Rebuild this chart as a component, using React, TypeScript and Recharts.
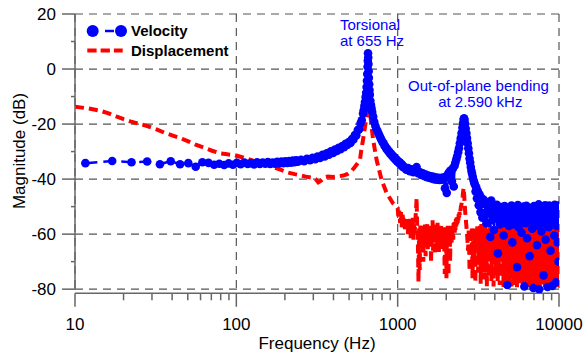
import {
  ComposedChart,
  Line,
  XAxis,
  YAxis,
  CartesianGrid,
  ReferenceLine,
  Label,
} from 'recharts';

const BLUE = '#0000ff';
const RED = '#ff0000';
const AXIS = '#666666';
const FONT = 'Arial, "Liberation Sans", Helvetica, sans-serif';

// axis ticks
const xMajorTicks = [10, 100, 1000, 10000];
const xMinorTicks = [
  20, 30, 40, 50, 60, 70, 80, 90,
  200, 300, 400, 500, 600, 700, 800, 900,
  2000, 3000, 4000, 5000, 6000, 7000, 8000, 9000,
];
const yMajorTicks = [-80, -60, -40, -20, 0, 20];
const yMinorTicks = [-70, -50, -30, -10, 10];

// Velocity (Hz, dB)
const velocityFreq = [
  11.6, 17.0, 22.4, 28.0, 33.6, 39.2, 44.8, 50.4, 56.0, 61.6,
  67.2, 72.8, 78.4, 84.0, 89.6, 95.2, 100.8, 106.4, 112.0, 117.6,
  123.2, 128.8, 134.4, 140.0, 145.6, 151.2, 156.8, 162.4, 168.0, 173.6,
  179.2, 184.8, 190.4, 196.0, 201.6, 207.2, 212.8, 218.4, 224.0, 229.6,
  235.2, 240.8, 252, 263, 274, 286, 297, 308, 319, 330,
  342, 353, 364, 375, 386, 398, 409, 420, 431, 442,
  454, 465, 476, 487, 498, 510, 521, 532, 543, 554,
  566, 577, 588, 599, 610, 616, 622, 627, 633, 638,
  642, 645, 648, 651, 653, 655, 657, 659, 661, 663,
  666, 669, 672, 677, 683, 689, 695, 705, 716, 727,
  739, 750, 761, 772, 784, 795, 806, 818, 829, 840,
  852, 863, 875, 886, 898, 909, 921, 932, 944, 955,
  967, 978, 990, 1001, 1013, 1024, 1036, 1048, 1060, 1072,
  1084, 1100, 1130, 1160, 1190, 1220, 1250, 1280, 1310, 1340,
  1370, 1400, 1430, 1460, 1490, 1520, 1550, 1580, 1610, 1640,
  1670, 1700, 1730, 1760, 1790, 1820, 1850, 1880, 1910, 1940,
  1965, 1990, 2015, 2040, 2065, 2090, 2115, 2140, 2170, 2195,
  2227, 2250, 2280, 2310, 2340, 2370, 2400, 2430, 2460, 2490,
  2520, 2545, 2565, 2580, 2595, 2615, 2640, 2665, 2690, 2715,
  2740, 2765, 2790, 2815, 2840, 2865, 2890, 2920, 2950, 2980,
  3010, 3040, 3070, 3100, 3140, 3180, 3220, 3260, 3300, 3350,
  3400, 3450, 3500, 3550, 3600, 3650, 3700, 3750, 3800, 3850,
  3900, 3950, 4000, 4060, 4120, 4180, 4240, 4300, 4360, 4420,
  4480, 4540, 4600, 4660, 4720, 4780, 4840, 4900, 4960, 5020,
  5080, 5140, 5200, 5260, 5320, 5380, 5440, 5500, 5560, 5620,
  5680, 5740, 5800, 5860, 5920, 5980, 6040, 6100, 6160, 6220,
  6280, 6340, 6400, 6460, 6520, 6580, 6640, 6700, 6760, 6820,
  6880, 6940, 7000, 7060, 7120, 7180, 7240, 7300, 7360, 7420,
  7480, 7540, 7600, 7660, 7720, 7780, 7840, 7900, 7960, 8020,
  8080, 8140, 8200, 8260, 8320, 8380, 8440, 8500, 8560, 8620,
  8680, 8740, 8800, 8860, 8920, 8980, 9040, 9100, 9160, 9220,
  9280, 9340, 9400, 9460, 9520, 9580, 9640, 9700, 9760, 9820,
  9880, 9940, 10000,
];
const velocityDb = [
  -34.2, -33.4, -33.9, -33.6, -34.6, -33.5, -34.6, -34.2, -35.5, -33.9,
  -34.1, -34.8, -34.4, -34.9, -34.3, -34.8, -34.1, -34.6, -34.0, -34.5,
  -34.2, -34.7, -33.9, -34.5, -34.0, -34.4, -33.8, -34.5, -34.0, -34.4,
  -33.7, -34.3, -33.6, -34.2, -33.5, -34.1, -33.4, -34.0, -33.3, -33.9,
  -33.2, -33.7, -33.0, -33.5, -32.6, -33.1, -32.3, -32.8, -31.8, -32.3,
  -31.2, -31.8, -30.6, -31.1, -29.9, -30.5, -29.3, -29.8, -28.6, -29.1,
  -28.0, -28.4, -27.2, -27.6, -26.5, -26.9, -25.4, -25.6, -24.0, -24.1,
  -22.2, -21.9, -19.8, -18.6, -16.2, -15.0, -13.4, -12.0, -10.2, -8.6,
  -6.5, -4.3, -1.8, 0.8, 3.0, 5.7, 4.2, 1.8, -0.8, -3.2,
  -5.5, -7.6, -9.3, -11.5, -13.0, -14.3, -15.6, -17.3, -19.2, -20.6,
  -21.8, -22.6, -23.4, -24.3, -25.1, -25.8, -26.6, -27.0, -27.9, -28.2,
  -29.0, -29.1, -29.9, -30.0, -30.8, -30.7, -31.5, -31.4, -32.2, -32.1,
  -32.9, -32.7, -33.5, -33.3, -34.0, -33.8, -34.6, -34.3, -35.2, -34.9,
  -35.7, -35.6, -36.6, -36.0, -37.1, -36.4, -37.5, -36.9, -35.6, -37.9,
  -37.4, -38.5, -37.9, -38.9, -38.3, -39.3, -38.7, -39.6, -39.0, -39.9,
  -39.2, -40.1, -39.4, -40.2, -39.5, -40.3, -39.6, -40.2, -39.4, -40.0,
  -43.3, -39.1, -45.0, -38.6, -37.8, -37.9, -37.0, -37.6, -40.9, -36.2,
  -42.7, -35.2, -34.0, -32.8, -31.6, -30.2, -28.8, -27.0, -25.2, -23.3,
  -21.3, -19.6, -18.3, -17.9, -18.4, -19.8, -21.6, -23.3, -25.1, -27.0,
  -28.8, -30.6, -32.5, -34.0, -35.6, -37.0, -38.0, -39.2, -40.3, -41.2,
  -42.0, -44.5, -43.0, -47.0, -44.4, -49.5, -45.6, -52.0, -46.8, -54.0,
  -47.4, -53.5, -48.2, -56.0, -48.9, -52.5, -49.5, -61.0, -47.8, -55.0,
  -50.6, -58.5, -50.0, -53.8, -49.3, -67.0, -51.4, -56.5, -50.2, -54.0,
  -52.0, -60.5, -49.8, -55.5, -51.3, -78.5, -50.6, -57.0, -52.2, -54.5,
  -49.6, -63.0, -51.8, -56.5, -50.9, -53.5, -52.6, -72.0, -49.4, -57.5,
  -51.5, -55.0, -50.8, -59.5, -52.3, -54.0, -50.0, -79.0, -51.9, -56.0,
  -49.7, -61.5, -52.5, -55.0, -50.9, -68.0, -52.0, -54.5, -50.4, -58.0,
  -52.8, -79.6, -49.8, -56.5, -51.6, -53.5, -50.7, -64.0, -52.4, -57.0,
  -49.2, -80.0, -51.3, -55.0, -50.5, -59.0, -52.1, -53.8, -50.0, -75.0,
  -51.7, -56.0, -49.5, -62.0, -52.2, -54.5, -50.6, -79.2, -51.4, -57.5,
  -49.6, -55.0, -52.0, -66.0, -50.3, -54.0, -51.8, -78.8, -50.1, -56.5,
  -51.5, -60.5, -49.3, -54.5, -51.2, -77.5, -50.2, -57.0, -52.0, -63.0,
  -49.6, -70.0, -54.0,
];

// Displacement (Hz, dB)
const displacementFreq = [
  10, 12, 14, 16, 18, 20, 22, 25, 28, 32,
  36, 40, 45, 50, 56, 63, 70, 79, 88, 98,
  112, 132, 155, 184, 208, 230, 248, 270, 290, 310,
  322, 335, 350, 370, 400, 430, 460, 490, 515, 544,
  565, 584, 595, 612, 628, 645, 653, 658, 663, 670,
  685, 705, 740, 795, 855, 935, 1000, 1012, 1024, 1036,
  1048, 1060, 1072, 1084, 1096, 1108, 1120, 1132, 1144, 1156,
  1168, 1180, 1192, 1204, 1216, 1228, 1240, 1252, 1264, 1276,
  1288, 1300, 1310, 1322, 1334, 1346, 1358, 1370, 1382, 1394,
  1406, 1418, 1430, 1442, 1454, 1466, 1478, 1490, 1502, 1514,
  1526, 1538, 1550, 1562, 1574, 1586, 1598, 1610, 1622, 1634,
  1646, 1658, 1670, 1682, 1694, 1706, 1718, 1730, 1742, 1754,
  1766, 1778, 1790, 1802, 1814, 1826, 1838, 1850, 1862, 1874,
  1886, 1898, 1910, 1922, 1934, 1946, 1958, 1970, 1982, 1994,
  2006, 2018, 2030, 2042, 2054, 2066, 2078, 2090, 2102, 2114,
  2126, 2138, 2150, 2162, 2174, 2186, 2198, 2210, 2222, 2234,
  2246, 2258, 2270, 2282, 2294, 2306, 2318, 2330, 2342, 2354,
  2366, 2378, 2390, 2402, 2414, 2426, 2438, 2450, 2465, 2480,
  2495, 2510, 2525, 2540, 2553, 2566, 2585, 2610, 2640, 2670,
  2700, 2730, 2760, 2790, 2820, 2850, 2880, 2910, 2940, 2970,
  3000, 3030, 3060, 3090, 3120, 3150, 3180, 3210, 3240, 3270,
  3300, 3330, 3360, 3390, 3420, 3450, 3480, 3510, 3540, 3570,
  3600, 3630, 3660, 3690, 3720, 3750, 3780, 3810, 3840, 3870,
  3900, 3930, 3960, 3990, 4020, 4050, 4080, 4110, 4140, 4170,
  4200, 4230, 4260, 4290, 4320, 4350, 4380, 4410, 4440, 4470,
  4500, 4530, 4560, 4590, 4620, 4650, 4680, 4710, 4740, 4770,
  4800, 4830, 4860, 4890, 4920, 4950, 4980, 5010, 5040, 5070,
  5100, 5130, 5160, 5190, 5220, 5250, 5280, 5310, 5340, 5370,
  5400, 5430, 5460, 5490, 5520, 5550, 5580, 5610, 5640, 5670,
  5700, 5730, 5760, 5790, 5820, 5850, 5880, 5910, 5940, 5970,
  6000, 6030, 6060, 6090, 6120, 6150, 6180, 6210, 6240, 6270,
  6300, 6330, 6360, 6390, 6420, 6450, 6480, 6510, 6540, 6570,
  6600, 6630, 6660, 6690, 6720, 6750, 6780, 6810, 6840, 6870,
  6900, 6930, 6960, 6990, 7020, 7050, 7080, 7110, 7140, 7170,
  7200, 7230, 7260, 7290, 7320, 7350, 7380, 7410, 7440, 7470,
  7500, 7530, 7560, 7590, 7620, 7650, 7680, 7710, 7740, 7770,
  7800, 7830, 7860, 7890, 7920, 7950, 7980, 8010, 8040, 8070,
  8100, 8130, 8160, 8190, 8220, 8250, 8280, 8310, 8340, 8370,
  8400, 8430, 8460, 8490, 8520, 8550, 8580, 8610, 8640, 8670,
  8700, 8730, 8760, 8790, 8820, 8850, 8880, 8910, 8940, 8970,
  9000, 9030, 9060, 9090, 9120, 9150, 9180, 9210, 9240, 9270,
  9300, 9330, 9360, 9390, 9420, 9450, 9480, 9510, 9540, 9570,
  9600, 9630, 9660, 9690, 9720, 9750, 9780, 9810, 9840, 9870,
  9900, 9930, 9960, 9990, 10000,
];
const displacementDb = [
  -13.7, -14.3, -15.0, -16.0, -17.2, -18.2, -19.0, -19.9, -20.7, -21.9,
  -23.2, -24.1, -25.1, -26.2, -27.5, -28.6, -29.6, -30.6, -31.0, -31.3,
  -32.3, -33.6, -34.8, -36.4, -37.6, -38.2, -38.6, -39.1, -39.4, -40.0,
  -41.2, -40.6, -39.4, -39.1, -39.2, -39.0, -38.7, -38.1, -37.2, -35.5,
  -34.2, -33.0, -29.4, -25.2, -20.9, -16.1, -11.2, -7.0, -9.0, -13.7,
  -19.7, -25.8, -33.0, -40.3, -45.1, -48.8, -50.5, -54.5, -51.5, -56.0,
  -52.0, -57.5, -53.0, -55.0, -53.5, -59.0, -54.0, -56.5, -53.8, -60.0,
  -55.0, -57.5, -54.5, -61.5, -55.5, -58.0, -54.0, -62.0, -56.0, -59.0,
  -55.0, -51.0, -47.0, -57.5, -62.0, -77.5, -58.0, -73.0, -56.5, -61.0,
  -57.0, -64.5, -58.5, -70.0, -57.0, -62.5, -56.5, -68.0, -58.0, -63.0,
  -56.0, -65.5, -57.5, -61.0, -56.5, -64.0, -58.0, -70.5, -57.0, -62.5,
  -55.0, -66.0, -58.5, -63.0, -57.0, -67.5, -58.0, -61.5, -56.5, -65.0,
  -55.4, -62.0, -58.5, -66.5, -57.0, -63.0, -58.0, -65.5, -56.5, -61.0,
  -57.5, -64.5, -58.0, -62.0, -56.8, -66.0, -74.5, -58.0, -63.5, -57.5,
  -76.0, -58.5, -64.0, -57.0, -62.5, -75.0, -58.0, -63.0, -57.5, -70.0,
  -58.5, -61.5, -57.0, -63.0, -56.5, -60.5, -57.0, -62.0, -56.0, -59.5,
  -55.5, -60.0, -55.0, -58.5, -54.5, -57.5, -54.0, -56.5, -53.5, -56.0,
  -53.0, -55.0, -52.5, -54.0, -52.0, -53.0, -51.0, -51.5, -50.0, -49.5,
  -48.5, -47.5, -46.5, -45.0, -44.0, -43.2, -46.0, -50.5, -54.0, -57.5,
  -61.0, -66.0, -58.0, -73.5, -60.5, -68.0, -57.5, -76.0, -62.5, -70.0,
  -58.0, -77.5, -60.5, -65.0, -56.5, -74.0, -59.5, -69.5, -57.0, -78.0,
  -56.0, -71.5, -60.0, -76.5, -58.5, -66.5, -55.8, -73.0, -61.0, -79.0,
  -58.0, -68.0, -59.5, -75.5, -57.5, -64.5, -60.0, -77.0, -58.5, -71.0,
  -57.0, -79.0, -60.5, -67.5, -57.5, -74.5, -59.0, -70.0, -58.5, -77.5,
  -61.5, -72.5, -57.0, -78.5, -59.5, -66.0, -56.5, -75.0, -60.0, -69.5,
  -58.0, -79.2, -57.5, -71.5, -60.5, -76.5, -58.0, -64.0, -59.5, -78.0,
  -57.0, -73.0, -60.0, -68.5, -56.5, -77.5, -59.0, -70.5, -58.0, -79.0,
  -60.0, -74.5, -57.0, -66.5, -58.5, -78.5, -57.5, -72.0, -59.5, -76.0,
  -56.5, -69.0, -59.0, -79.3, -57.5, -73.5, -60.5, -65.5, -58.0, -77.0,
  -57.0, -71.0, -58.5, -78.0, -56.0, -75.0, -59.5, -68.0, -57.5, -79.0,
  -59.0, -72.5, -57.5, -76.5, -58.5, -66.0, -56.5, -78.5, -60.0, -73.0,
  -58.0, -69.5, -55.5, -77.0, -59.5, -74.0, -57.0, -79.2, -58.5, -70.5,
  -57.0, -76.0, -59.5, -67.5, -56.5, -78.0, -58.5, -72.5, -57.5, -79.3,
  -59.0, -74.5, -56.8, -69.0, -58.5, -77.5, -57.5, -71.5, -60.0, -78.5,
  -57.0, -75.5, -58.8, -68.0, -56.5, -79.0, -58.0, -73.0, -57.5, -76.5,
  -59.5, -70.0, -57.0, -78.8, -58.5, -74.0, -56.8, -67.0, -58.0, -79.0,
  -57.3, -72.0, -59.0, -77.0, -57.0, -75.5, -58.5, -69.5, -56.8, -78.5,
  -58.5, -73.5, -57.2, -79.2, -59.0, -71.0, -57.5, -76.5, -58.0, -68.5,
  -56.8, -78.0, -58.6, -74.5, -57.2, -79.0, -58.3, -70.0, -57.0, -76.0,
  -59.0, -72.5, -57.5, -78.5, -58.0, -75.0, -56.8, -69.5, -58.5, -79.2,
  -57.2, -74.0, -58.6, -77.5, -57.0, -71.5, -58.4, -78.8, -57.5, -73.0,
  -58.0, -76.5, -56.8, -79.0, -58.5, -70.5, -57.3, -77.0, -58.0, -74.5,
  -57.0, -78.5, -58.4, -72.0, -57.5, -79.3, -58.2, -75.5, -56.9, -77.0,
  -58.5, -73.0, -57.5, -78.0, -60.0,
];

const velocityData = velocityFreq.map((f, i) => ({ f, v: velocityDb[i] }));
const displacementData = displacementFreq.map((f, i) => ({ f, v: displacementDb[i] }));

const renderXTick = (props: any) => {
  const { x, y, payload } = props;
  const major = xMajorTicks.includes(payload.value);
  return (
    <g>
      <line x1={x} x2={x} y1={y} y2={y + (major ? 13.5 : 7)} stroke={AXIS} strokeWidth={1.5} />
      {major && (
        <text x={x} y={y + 36.5} textAnchor="middle" fontSize={17} fontFamily={FONT} fill="#000">
          {payload.value}
        </text>
      )}
    </g>
  );
};

const renderYTick = (props: any) => {
  const { x, y, payload } = props;
  const major = yMajorTicks.includes(payload.value);
  return (
    <g>
      <line x1={x - (major ? 13 : 4)} x2={x} y1={y} y2={y} stroke={AXIS} strokeWidth={1.5} />
      {major && (
        <text x={x - 19} y={y + 6} textAnchor="end" fontSize={17} fontFamily={FONT} fill="#000">
          {payload.value}
        </text>
      )}
    </g>
  );
};

export default function App() {
  return (
    <div
      style={{
        position: 'absolute',
        left: 0,
        top: 0,
        width: 584,
        height: 356,
        background: '#fff',
        fontFamily: FONT,
      }}
    >
      <ComposedChart
        width={584}
        height={356}
        margin={{ top: 14, right: 25, bottom: 5.7, left: 15 }}
      >
        <CartesianGrid
          stroke="#555"
          strokeDasharray="8 6"
          strokeWidth={1.2}
          horizontalValues={yMajorTicks}
          verticalValues={xMajorTicks}
        />
        <XAxis
          dataKey="f"
          type="number"
          scale="log"
          domain={[10, 10000]}
          allowDataOverflow
          ticks={[...xMajorTicks, ...xMinorTicks]}
          interval={0}
          tick={renderXTick}
          tickLine={false}
          tickSize={0}
          tickMargin={0}
          height={57}
          stroke={AXIS}
          strokeWidth={1.5}
        >
          <Label
            content={(p: any) => {
              const vb = p.viewBox;
              return (
                <text
                  x={vb.x + vb.width / 2}
                  y={vb.y + 56}
                  textAnchor="middle"
                  fontSize={17}
                  fontFamily={FONT}
                  fill="#000"
                >
                  Frequency (Hz)
                </text>
              );
            }}
          />
        </XAxis>
        <YAxis
          type="number"
          domain={[-81.5, 20]}
          allowDataOverflow
          ticks={[...yMajorTicks, ...yMinorTicks].sort((a, b) => a - b)}
          interval={0}
          tick={renderYTick}
          axisLine={false}
          tickLine={false}
          tickSize={0}
          tickMargin={0}
          width={60}
        >
          <Label
            content={() => (
              <text
                x={24.5}
                y={151}
                transform="rotate(-90 24.5 151)"
                textAnchor="middle"
                fontSize={17}
                fontFamily={FONT}
                fill="#000"
              >
                Magnitude (dB)
              </text>
            )}
          />
        </YAxis>
        <Line
          data={velocityData}
          dataKey="v"
          type="linear"
          stroke={BLUE}
          strokeWidth={2.5}
          strokeDasharray="12 6"
          dot={{ r: 4.3, fill: BLUE, stroke: 'none', strokeWidth: 0 }}
          activeDot={false}
          isAnimationActive={false}
        />
        <Line
          data={displacementData}
          dataKey="v"
          type="linear"
          stroke={RED}
          strokeWidth={4}
          strokeDasharray="9 5"
          dot={false}
          activeDot={false}
          isAnimationActive={false}
        />
        <ReferenceLine
          segment={[
            { x: 10, y: -80 },
            { x: 10, y: 20 },
          ]}
          stroke={AXIS}
          strokeWidth={1.5}
        />
      </ComposedChart>

      {/* legend + annotations */}
      <svg
        width={584}
        height={356}
        style={{ position: 'absolute', left: 0, top: 0, pointerEvents: 'none' }}
      >
        <line x1={105} x2={114} y1={31} y2={31} stroke={BLUE} strokeWidth={2.5} />
        <circle cx={92.7} cy={31} r={6} fill={BLUE} />
        <circle cx={121} cy={31} r={6} fill={BLUE} />
        <text x={131} y={36} fontSize={15} fontWeight="bold" fontFamily={FONT} fill="#000">
          Velocity
        </text>
        <line
          x1={87.3}
          x2={122.7}
          y1={50.5}
          y2={50.5}
          stroke={RED}
          strokeWidth={4}
          strokeDasharray="9.3 4"
        />
        <text x={131} y={55.5} fontSize={15} fontWeight="bold" fontFamily={FONT} fill="#000">
          Displacement
        </text>

        <text x={370} y={29.5} textAnchor="middle" fontSize={15} fontFamily={FONT} fill={BLUE}>
          Torsional
        </text>
        <text x={372} y={45.5} textAnchor="middle" fontSize={15} fontFamily={FONT} fill={BLUE}>
          at 655 Hz
        </text>
        <text x={478.5} y={91} textAnchor="middle" fontSize={15} fontFamily={FONT} fill={BLUE}>
          Out-of-plane bending
        </text>
        <text x={480.3} y={107.3} textAnchor="middle" fontSize={15} fontFamily={FONT} fill={BLUE}>
          at 2.590 kHz
        </text>
      </svg>
    </div>
  );
}
